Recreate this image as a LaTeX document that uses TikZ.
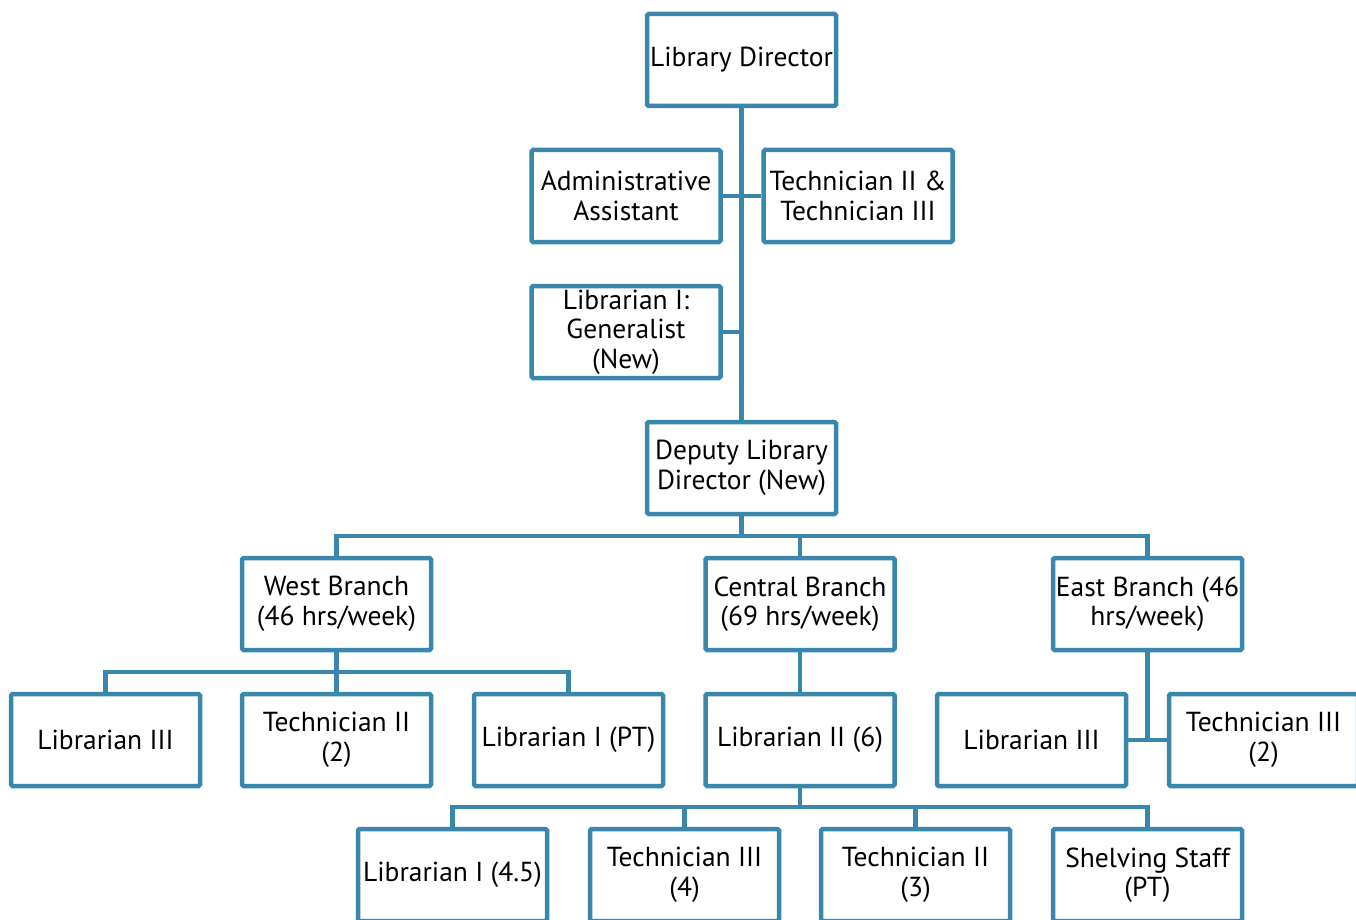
\documentclass[tikz,border=0pt]{standalone}
\usepackage{fontspec}
\setmainfont{PT Sans}
\usepackage{tikz}
\usetikzlibrary{positioning,calc}
\definecolor{orgblue}{RGB}{57,136,172}
\tikzset{
  posbox/.style={draw=orgblue, line width=4.5pt, rounded corners=1.5pt, fill=white,
    minimum width=189pt, minimum height=92pt, inner sep=0pt, align=center,
    font=\fontsize{27.5}{29.5}\selectfont},
  conn/.style={draw=orgblue, line width=4.5pt},
}
\begin{document}
\begin{tikzpicture}[x=1pt,y=-1pt]
  \useasboundingbox (0,0) rectangle (1356,920);
  \clip (0,0) rectangle (1356,920);
  % top of the chart
  \node[posbox] (dir) at (741.5,60) {Library Director};
  \node[posbox] (adm) at (626,196) {Administrative\\Assistant};
  \node[posbox] (tec) at (858,196) {Technician II \&\\Technician III};
  \node[posbox] (gen) at (626,332) {Librarian I:\\Generalist\\(New)};
  \node[posbox] (dep) at (741.5,468) {Deputy Library\\Director (New)};
  % branches
  \node[posbox] (west) at (336.5,604) {West Branch\\(46 hrs/week)};
  \node[posbox] (cent) at (800,604) {Central Branch\\(69 hrs/week)};
  \node[posbox] (east) at (1147.5,604) {East Branch (46\\hrs/week)};
  % branch staff
  \node[posbox] (wlib3) at (105.5,740) {Librarian III};
  \node[posbox] (wtec2) at (336.5,740) {Technician II\\(2)};
  \node[posbox] (wlib1) at (568.5,740) {Librarian I (PT)};
  \node[posbox] (clib2) at (800,740) {Librarian II (6)};
  \node[posbox] (elib3) at (1031.5,740) {Librarian III};
  \node[posbox] (etec3) at (1263.5,740) {Technician III\\(2)};
  % central staff
  \node[posbox] (clib1) at (452.5,875) {Librarian I (4.5)};
  \node[posbox] (ctec3) at (684.5,875) {Technician III\\(4)};
  \node[posbox] (ctec2) at (915.5,875) {Technician II\\(3)};
  \node[posbox] (cshelf) at (1147.5,875) {Shelving Staff\\(PT)};
  % connectors
  \coordinate (bus) at (741.5,536);
  \coordinate (wbus) at (336.5,672);
  \coordinate (cbus) at (800,807);
  \draw[conn] (dir.south) -- (dep.north);
  \draw[conn] (adm.east) -- (tec.west);
  \draw[conn] (gen.east) -- (gen.east -| dir.south);
  \draw[conn] (dep.south) -- (bus);
  \draw[conn] (west.north) |- (bus) -| (east.north);
  \draw[conn] (cent.north) -- (cent.north |- bus);
  \draw[conn] (west.south) -- (wbus);
  \draw[conn] (wlib3.north) |- (wbus) -| (wlib1.north);
  \draw[conn] (wtec2.north) -- (wbus);
  \draw[conn] (cent.south) -- (clib2.north);
  \draw[conn] (east.south) -- (east.south |- etec3.west);
  \draw[conn] (elib3.east) -- (etec3.west);
  \draw[conn] (clib2.south) -- (cbus);
  \draw[conn] (clib1.north) |- (cbus) -| (cshelf.north);
  \draw[conn] (ctec3.north) -- (ctec3.north |- cbus);
  \draw[conn] (ctec2.north) -- (ctec2.north |- cbus);
\end{tikzpicture}
\end{document}
